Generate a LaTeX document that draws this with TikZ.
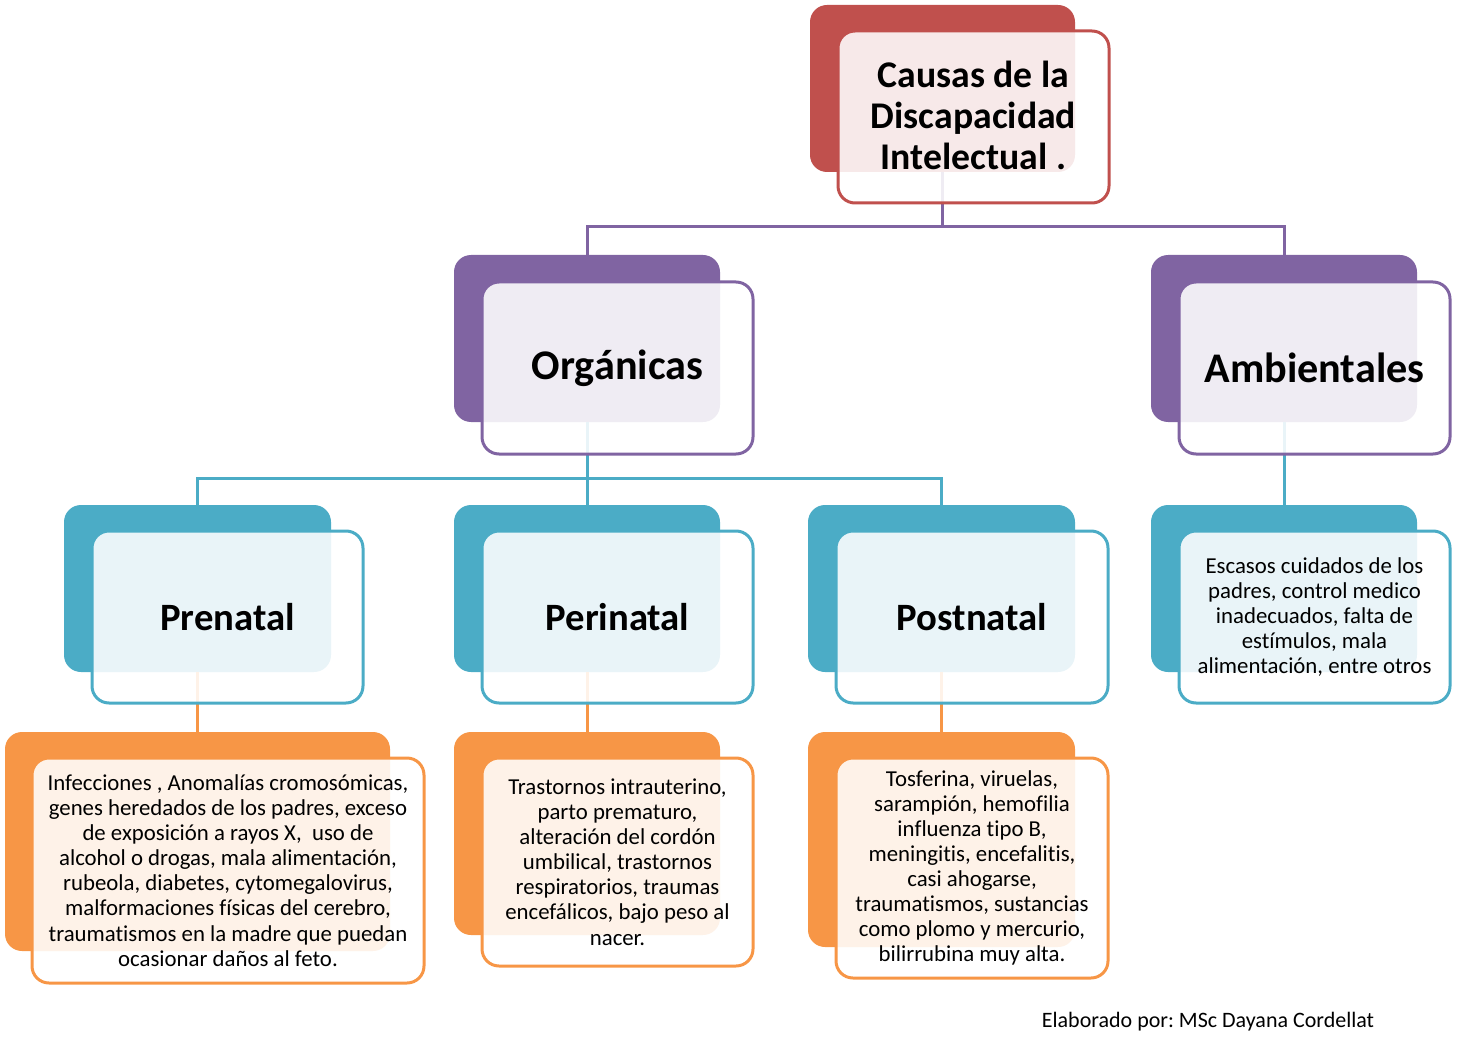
\documentclass[tikz,border=0pt]{standalone}
\usepackage{fontspec}
\setmainfont{Carlito}[Ligatures=NoCommon]
\frenchspacing
\definecolor{cred}{HTML}{C0504D}
\definecolor{cpurple}{HTML}{8064A2}
\definecolor{cteal}{HTML}{4BACC6}
\definecolor{corange}{HTML}{F79646}
\begin{document}
\begin{tikzpicture}[x=1pt,y=-1pt,
  backbox/.style={fill=#1, draw=none, rounded corners=17pt, inner sep=0pt},
  frontbox/.style={draw=#1, line width=3pt, fill=white, fill opacity=0.88, text opacity=1,
    rounded corners=17pt, inner sep=0pt, align=center},
  conn/.style={draw=#1, line width=3pt},
  titlefont/.style={font=\fontsize{37.7}{41}\selectfont\bfseries},
  headfont/.style={font=\fontsize{42.2}{48}\selectfont\bfseries},
  subfont/.style={font=\fontsize{38.7}{44}\selectfont\bfseries},
  bodyfont/.style={font=\fontsize{22.8}{25.1}\selectfont}]
\useasboundingbox (0,0) rectangle (1474,1048);
% back boxes
\node[backbox=cred, minimum width=265pt, minimum height=167pt] (topB) at (942.5,88.5) {};
\node[backbox=cpurple, minimum width=266pt, minimum height=167pt] (orgB) at (587,338.5) {};
\node[backbox=cpurple, minimum width=266pt, minimum height=167pt] (ambB) at (1284,338.5) {};
\node[backbox=cteal, minimum width=267pt, minimum height=167pt] (preB) at (197.5,588.5) {};
\node[backbox=cteal, minimum width=266pt, minimum height=167pt] (periB) at (587,588.5) {};
\node[backbox=cteal, minimum width=267pt, minimum height=167pt] (postB) at (941.5,588.5) {};
\node[backbox=cteal, minimum width=266pt, minimum height=167pt] (ambcB) at (1284,588.5) {};
\node[backbox=corange, minimum width=385pt, minimum height=219pt] (preDB) at (197.5,841.5) {};
\node[backbox=corange, minimum width=266pt, minimum height=203pt] (periDB) at (587,833.5) {};
\node[backbox=corange, minimum width=267pt, minimum height=215pt] (postDB) at (941.5,839.5) {};
% connectors
\coordinate (j1) at (942.5,227);
\coordinate (j2) at (587,478);
\draw[conn=cpurple] (topB.south) -- (j1) -| (orgB.north);
\draw[conn=cpurple] (j1) -| (ambB.north);
\draw[conn=cteal] (orgB.south) -- (j2) -| (preB.north);
\draw[conn=cteal] (j2) -| (postB.north);
\draw[conn=cteal] (j2) -- (periB.north);
\draw[conn=cteal] (ambB.south) -- (ambcB.north);
\draw[conn=corange] (preB.south) -- (preDB.north);
\draw[conn=corange] (periB.south) -- (periDB.north);
\draw[conn=corange] (postB.south) -- (postDB.north);
% front boxes
\node[frontbox=cred, minimum width=271pt, minimum height=172pt] (topF) at (973.5,117) {};
\node[titlefont, align=center, inner sep=0pt] (topT) at (973.5,115)
  {Causas de la\\Discapacidad\\Intelectual .};
\node[frontbox=cpurple, headfont, minimum width=271pt, minimum height=172pt] (orgF) at (617.5,368) {Orgánicas};
\node[frontbox=cpurple, headfont, minimum width=271pt, minimum height=172pt] (ambF) at (1314.5,368) {Ambientales};
\node[frontbox=cteal, subfont, minimum width=271pt, minimum height=172pt] (preF) at (227.5,617) {Prenatal};
\node[frontbox=cteal, subfont, minimum width=271pt, minimum height=172pt] (periF) at (617.5,617) {Perinatal};
\node[frontbox=cteal, subfont, minimum width=272pt, minimum height=172pt] (postF) at (972,617) {Postnatal};
\node[frontbox=cteal, bodyfont, minimum width=271pt, minimum height=172pt] (ambcF) at (1314.5,617)
  {Escasos cuidados de los\\padres, control medico\\inadecuados, falta de\\estímulos, mala\\alimentación, entre otros};
\node[frontbox=corange, bodyfont, minimum width=392pt, minimum height=225pt] (preDF) at (228,870.5)
  {Infecciones , Anomalías cromosómicas,\\genes heredados de los padres, exceso\\de exposición a rayos X,\ \ uso de\\alcohol o drogas, mala alimentación,\\rubeola, diabetes, cytomegalovirus,\\malformaciones físicas del cerebro,\\traumatismos en la madre que puedan\\ocasionar daños al feto.};
\node[frontbox=corange, bodyfont, minimum width=271pt, minimum height=208pt] (periDF) at (617.5,862)
  {Trastornos intrauterino,\\parto prematuro,\\alteración del cordón\\umbilical, trastornos\\respiratorios, traumas\\encefálicos, bajo peso al\\nacer.};
\node[frontbox=corange, bodyfont, minimum width=272pt, minimum height=220pt] (postDF) at (972,868)
  {Tosferina, viruelas,\\sarampión, hemofilia\\influenza tipo B,\\meningitis, encefalitis,\\casi ahogarse,\\traumatismos, sustancias\\como plomo y mercurio,\\bilirrubina muy alta.};
\node[font=\fontsize{22}{26}\selectfont, inner sep=0pt] (credit) at (1208,1022) {Elaborado por: MSc Dayana Cordellat};
\end{tikzpicture}
\end{document}
